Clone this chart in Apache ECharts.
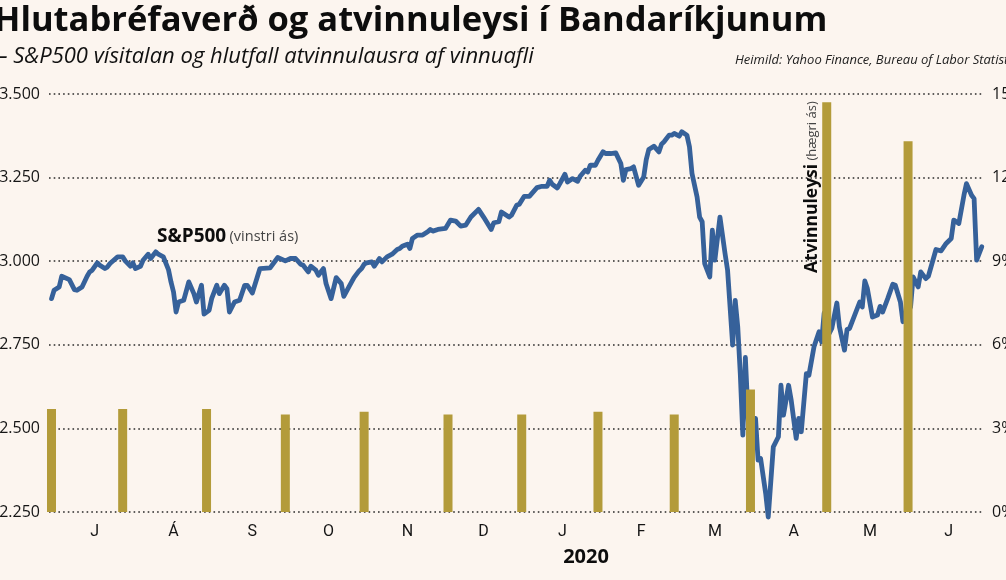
<!DOCTYPE html>
<html>
<head>
<meta charset="utf-8">
<script src="https://cdn.jsdelivr.net/npm/echarts@6/dist/echarts.min.js"></script>
<style>
  html, body { margin: 0; padding: 0; background: #FCF5EF; }
  #chart { width: 1006px; height: 580px; }
</style>
</head>
<body>
<div id="chart"></div>
<script>
// ---- Data ----
const sp500Dates = [
'2019-06-14','2019-06-15','2019-06-17','2019-06-18','2019-06-21','2019-06-23','2019-06-24','2019-06-26','2019-06-28','2019-06-29','2019-06-30',
'2019-07-02','2019-07-03','2019-07-05','2019-07-06','2019-07-07','2019-07-10','2019-07-12','2019-07-13','2019-07-15','2019-07-16','2019-07-17','2019-07-19','2019-07-20','2019-07-22','2019-07-23','2019-07-25','2019-07-26','2019-07-28','2019-07-30','2019-07-31',
'2019-08-01','2019-08-02','2019-08-03','2019-08-05','2019-08-07','2019-08-09','2019-08-10','2019-08-12','2019-08-13','2019-08-15','2019-08-16','2019-08-18','2019-08-19','2019-08-21','2019-08-22','2019-08-23','2019-08-25','2019-08-27','2019-08-29','2019-08-30',
'2019-09-01','2019-09-04','2019-09-08','2019-09-11','2019-09-14','2019-09-16','2019-09-18','2019-09-20','2019-09-21','2019-09-23','2019-09-24','2019-09-26','2019-09-27','2019-09-29','2019-09-30',
'2019-10-02','2019-10-04','2019-10-06','2019-10-07','2019-10-09','2019-10-11','2019-10-13','2019-10-14','2019-10-15','2019-10-16','2019-10-18','2019-10-19','2019-10-21','2019-10-22','2019-10-24','2019-10-26','2019-10-28','2019-10-29','2019-10-30',
'2019-11-01','2019-11-02','2019-11-03','2019-11-05','2019-11-07','2019-11-09','2019-11-10','2019-11-11','2019-11-13','2019-11-16','2019-11-18','2019-11-20','2019-11-22','2019-11-24','2019-11-26','2019-11-29',
'2019-12-01','2019-12-04','2019-12-05','2019-12-07','2019-12-08','2019-12-11','2019-12-12','2019-12-14','2019-12-15','2019-12-17','2019-12-19','2019-12-22','2019-12-24','2019-12-26','2019-12-27','2019-12-28','2019-12-30','2019-12-31',
'2020-01-02','2020-01-03','2020-01-05','2020-01-07','2020-01-08','2020-01-10','2020-01-11','2020-01-12','2020-01-14','2020-01-15','2020-01-17','2020-01-18','2020-01-20','2020-01-22','2020-01-24','2020-01-25','2020-01-26','2020-01-28','2020-01-29','2020-01-31',
'2020-02-02','2020-02-03','2020-02-04','2020-02-06','2020-02-08','2020-02-09','2020-02-10','2020-02-12','2020-02-13','2020-02-14','2020-02-16','2020-02-17','2020-02-19','2020-02-20','2020-02-21','2020-02-23','2020-02-24','2020-02-25','2020-02-26','2020-02-28','2020-02-29',
'2020-03-01','2020-03-03','2020-03-05','2020-03-06','2020-03-08','2020-03-09','2020-03-10','2020-03-11','2020-03-12','2020-03-13','2020-03-15','2020-03-17','2020-03-18','2020-03-19','2020-03-21','2020-03-22','2020-03-24','2020-03-26','2020-03-27','2020-03-28','2020-03-30','2020-03-31',
'2020-04-02','2020-04-03','2020-04-04','2020-04-06','2020-04-07','2020-04-09','2020-04-11','2020-04-12','2020-04-13','2020-04-15','2020-04-16','2020-04-18','2020-04-19','2020-04-21','2020-04-22','2020-04-23','2020-04-27','2020-04-28','2020-04-29','2020-04-30',
'2020-05-02','2020-05-04','2020-05-05','2020-05-06','2020-05-08','2020-05-10','2020-05-11','2020-05-13','2020-05-14','2020-05-16','2020-05-17','2020-05-18','2020-05-20','2020-05-21','2020-05-23','2020-05-24','2020-05-27','2020-05-29','2020-05-31',
'2020-06-02','2020-06-03','2020-06-05','2020-06-07','2020-06-08','2020-06-10','2020-06-11','2020-06-12','2020-06-14'
];
const sp500Values = [
2888,2913,2923,2955,2945,2915,2913,2923,2955,2968,2973,
2995,2988,2978,2983,2993,3013,3013,3001,2985,2995,2978,2985,3003,3021,3008,3028,3021,3013,2975,2938,
2908,2848,2878,2883,2938,2903,2878,2928,2842,2853,2888,2928,2903,2928,2918,2848,2878,2883,2928,2928,
2905,2978,2980,3011,3001,3008,3008,2991,2988,2968,2985,2973,2958,2978,2933,
2888,2951,2933,2895,2923,2951,2971,2978,2991,2995,2998,2985,3008,2998,3013,3021,3035,3038,3045,
3051,3038,3068,3078,3078,3088,3095,3090,3095,3098,3123,3120,3105,3108,3132,3155,
3132,3095,3115,3118,3147,3132,3138,3167,3170,3194,3194,3220,3224,3224,3242,3230,3219,3232,
3260,3237,3247,3239,3254,3272,3267,3287,3287,3302,3327,3322,3322,3324,3292,3242,3274,3277,3282,3227,
3252,3304,3334,3344,3327,3350,3357,3377,3377,3382,3374,3387,3377,3342,3262,3192,3132,3118,2993,2953,3093,
3003,3132,3023,2973,2749,2883,2804,2664,2480,2712,2385,2530,2405,2410,2305,2235,2445,2475,2629,2540,2629,2586,
2470,2530,2490,2664,2659,2744,2789,2759,2845,2784,2799,2875,2804,2734,2796,2799,2878,2863,2941,2918,
2833,2839,2865,2848,2888,2931,2928,2878,2819,2848,2863,2953,2923,2968,2948,2955,3035,3031,3053,
3068,3123,3113,3197,3232,3197,3187,3003,3043
];
const unemploymentDates = ['2019-06-14','2019-07-12','2019-08-14','2019-09-14','2019-10-15','2019-11-17','2019-12-16','2020-01-15','2020-02-14','2020-03-15','2020-04-14','2020-05-16'];
const unemploymentRates = [3.7, 3.7, 3.7, 3.5, 3.6, 3.5, 3.5, 3.6, 3.5, 4.4, 14.7, 13.3];
const monthInitials = ['J','F','M','A','M','J','J','Á','S','O','N','D'];
const leftTicks = { min: 2250, max: 3500, interval: 250 };
const rightTicks = { min: 0, max: 15, interval: 3 };

const titleText = 'Hlutabréfaverð og atvinnuleysi í Bandaríkjunum';
const subtitleText = '– S&P500 vísitalan og hlutfall atvinnulausra af vinnuafli';
const sourceText = 'Heimild: Yahoo Finance, Bureau of Labor Statistics';

// ---- Chart ----
const chart = echarts.init(document.getElementById('chart'), null, { renderer: 'canvas' });
const lineColor = '#36619A';
const barColor = '#B39B3A';
const textColor = '#151515';
const font = '"Open Sans", Lato, sans-serif';
const gridDots = { type: [1.6, 3.1], color: '#2a2a2a', width: 1.6 };

const axisMin = +new Date(2019, 5, 13);
const axisMax = +new Date(2020, 5, 14, 12);
const barWidth = 9;
// The bar axis is widened by the library by half a bar on each side; pull its ends in by that much
const gridWidthPx = 1006 - 49 - 23;
const halfBarSpan = (axisMax - axisMin) * (barWidth / 2) / (gridWidthPx - barWidth);

const option = {
  backgroundColor: '#FCF5EF',
  animation: false,
  grid: { left: 49, right: 23, top: 94, bottom: 68, outerBoundsMode: 'none', containLabel: false },
  xAxis: [
    {
      type: 'time',
      min: axisMin,
      max: axisMax,
      splitNumber: 12,
      axisLine: { show: false },
      axisTick: { show: false },
      splitLine: { show: false },
      axisLabel: {
        margin: 12,
        fontSize: 16,
        color: textColor,
        fontFamily: '"Liberation Sans Narrow", "Roboto", sans-serif',
        fontWeight: 'normal',
        formatter: function (v) { return monthInitials[new Date(v).getMonth()]; }
      }
    },
    {
      type: 'time',
      min: axisMin + halfBarSpan,
      max: axisMax - halfBarSpan,
      show: false
    }
  ],
  yAxis: [
    {
      type: 'value',
      min: leftTicks.min, max: leftTicks.max, interval: leftTicks.interval,
      axisLine: { show: false }, axisTick: { show: false },
      splitLine: { show: true, lineStyle: gridDots },
      axisLabel: {
        margin: 9, fontSize: 16, color: textColor, fontFamily: font,
        formatter: function (v) { return Math.floor(v / 1000) + '.' + String(v % 1000).padStart(3, '0'); }
      }
    },
    {
      type: 'value',
      min: rightTicks.min, max: rightTicks.max, interval: rightTicks.interval,
      axisLine: { show: false }, axisTick: { show: false },
      splitLine: { show: false },
      axisLabel: { margin: 9, fontSize: 16, color: textColor, fontFamily: font, formatter: '{value}%' }
    }
  ],
  series: [
    {
      name: 'S&P500',
      type: 'line',
      xAxisIndex: 0,
      yAxisIndex: 0,
      data: sp500Dates.map((d, i) => [d, sp500Values[i]]),
      showSymbol: false,
      clip: false,
      lineStyle: { color: lineColor, width: 4.8, cap: 'round', join: 'round' },
      z: 2
    },
    {
      name: 'Atvinnuleysi',
      type: 'bar',
      xAxisIndex: 1,
      yAxisIndex: 1,
      data: unemploymentDates.map((d, i) => [d, unemploymentRates[i]]),
      barWidth: barWidth,
      itemStyle: { color: barColor },
      z: 3
    }
  ],
  graphic: [
    { type: 'text', x: -6, y: 21, style: { text: titleText, fontFamily: font, fontWeight: 'bold', fontSize: 34.5, fill: '#0d0d0d', verticalAlign: 'middle' } },
    { type: 'text', x: -3, y: 57, style: { text: subtitleText, fontFamily: font, fontStyle: 'italic', fontSize: 22, fill: '#111', verticalAlign: 'middle' } },
    { type: 'text', x: 735, y: 60, style: { text: sourceText, fontFamily: font, fontStyle: 'italic', fontSize: 13, fill: '#222', verticalAlign: 'middle' } },
    { type: 'text', x: 586, y: 557, style: { text: '2020', fontFamily: font, fontWeight: 'bold', fontSize: 20, fill: '#0d0d0d', align: 'center', verticalAlign: 'middle' } },
    { type: 'text', x: 157, y: 237, style: {
        text: '{b|S&P500} {n|(vinstri ás)}', verticalAlign: 'middle',
        rich: {
          b: { fontFamily: font, fontWeight: 'bold', fontSize: 19, fill: '#0d0d0d' },
          n: { fontFamily: font, fontSize: 14.5, fill: '#444' }
        } } },
    { type: 'text', x: 812, y: 273, rotation: Math.PI / 2, style: {
        text: '{b|Atvinnuleysi} {n|(hægri ás)}', verticalAlign: 'middle',
        rich: {
          b: { fontFamily: font, fontWeight: 'bold', fontSize: 17.5, fill: '#0d0d0d' },
          n: { fontFamily: font, fontSize: 13, fill: '#444' }
        } } }
  ]
};
chart.setOption(option);
</script>
</body>
</html>
